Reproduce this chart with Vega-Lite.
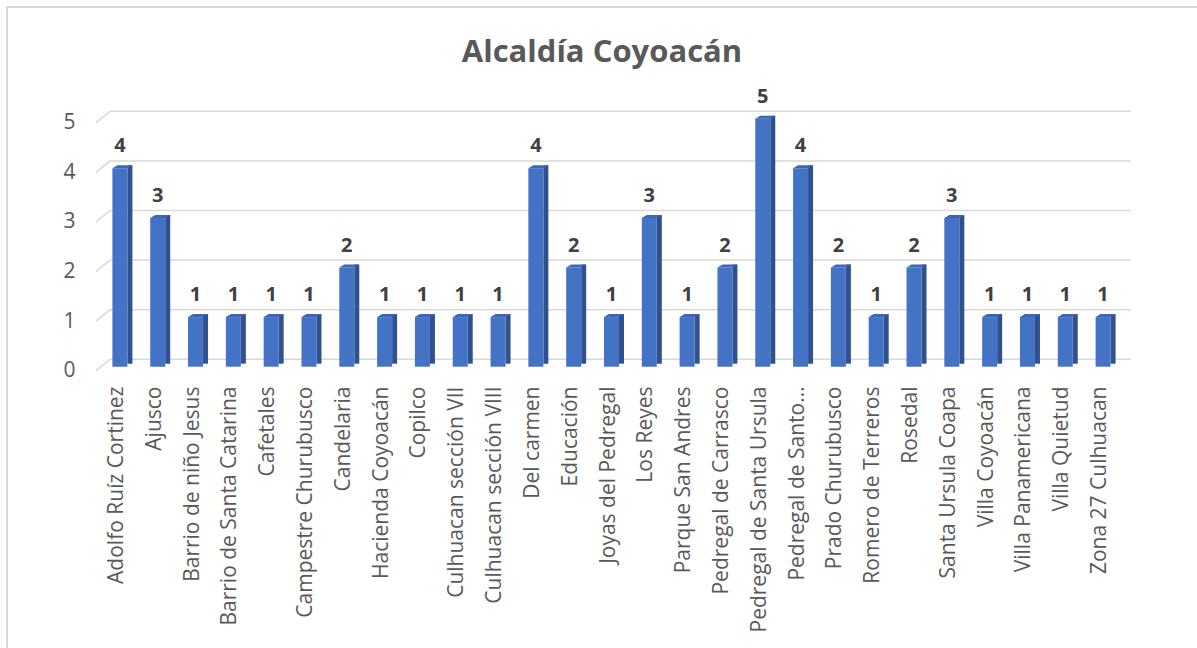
{
  "$schema": "https://vega.github.io/schema/vega-lite/v6.json",
  "width": 1190,
  "height": 641,
  "autosize": {"type": "none"},
  "padding": {"left": 7, "top": 7, "right": 0, "bottom": 0},
  "background": "#ffffff",
  "config": {
    "font": "Open Sans",
    "view": {"stroke": "#d9d9d9", "strokeWidth": 2, "strokeDash": [1190, 1831, 641], "fill": null}
  },
  "title": {
    "text": "Alcaldía Coyoacán",
    "font": "Open Sans",
    "fontSize": 31,
    "fontWeight": "bold",
    "color": "#595959",
    "anchor": "middle",
    "frame": "group",
    "offset": -86,
    "baseline": "alphabetic"
  },
  "datasets": {
    "barrios": [
      {"barrio": "Adolfo Ruíz Cortinez", "n": 4},
      {"barrio": "Ajusco", "n": 3},
      {"barrio": "Barrio de niño Jesus", "n": 1},
      {"barrio": "Barrio de Santa Catarina", "n": 1},
      {"barrio": "Cafetales", "n": 1},
      {"barrio": "Campestre Churubusco", "n": 1},
      {"barrio": "Candelaria", "n": 2},
      {"barrio": "Hacienda Coyoacán", "n": 1},
      {"barrio": "Copilco", "n": 1},
      {"barrio": "Culhuacan sección VII", "n": 1},
      {"barrio": "Culhuacan sección VIII", "n": 1},
      {"barrio": "Del carmen", "n": 4},
      {"barrio": "Educación", "n": 2},
      {"barrio": "Joyas del Pedregal", "n": 1},
      {"barrio": "Los Reyes", "n": 3},
      {"barrio": "Parque San Andres", "n": 1},
      {"barrio": "Pedregal de Carrasco", "n": 2},
      {"barrio": "Pedregal de Santa Ursula", "n": 5},
      {"barrio": "Pedregal de Santo…", "n": 4},
      {"barrio": "Prado Churubusco", "n": 2},
      {"barrio": "Romero de Terreros", "n": 1},
      {"barrio": "Rosedal", "n": 2},
      {"barrio": "Santa Ursula Coapa", "n": 3},
      {"barrio": "Villa Coyoacán", "n": 1},
      {"barrio": "Villa Panamericana", "n": 1},
      {"barrio": "Villa Quietud", "n": 1},
      {"barrio": "Zona 27 Culhuacan", "n": 1}
    ],
    "ticks": [
      {"tick": 0}, {"tick": 1}, {"tick": 2}, {"tick": 3}, {"tick": 4}, {"tick": 5}
    ]
  },
  "layer": [
    {
      "data": {"name": "ticks"},
      "mark": {"type": "rule", "color": "#d9d9d9", "strokeWidth": 1.5, "xOffset": 14, "x2Offset": 14, "yOffset": -11.4, "y2Offset": -11.4},
      "encoding": {
        "x": {"datum": "Adolfo Ruíz Cortinez", "type": "nominal", "bandPosition": 0},
        "x2": {"datum": "Zona 27 Culhuacan", "bandPosition": 1},
        "y": {"field": "tick", "type": "quantitative"}
      }
    },
    {
      "data": {"name": "ticks"},
      "mark": {
        "type": "point",
        "shape": "M-0.7,0.57 L0.7,-0.57",
        "size": 400,
        "filled": false,
        "opacity": 1,
        "color": "#d9d9d9",
        "strokeWidth": 1.5,
        "xOffset": 7,
        "yOffset": -5.7
      },
      "encoding": {
        "x": {"datum": "Adolfo Ruíz Cortinez", "type": "nominal", "bandPosition": 0},
        "y": {"field": "tick", "type": "quantitative"}
      }
    },
    {
      "data": {"name": "barrios"},
      "encoding": {
        "x": {
          "field": "barrio",
          "type": "nominal",
          "sort": null,
          "scale": {
            "type": "band",
            "domain": [
              "Adolfo Ruíz Cortinez", "Ajusco", "Barrio de niño Jesus", "Barrio de Santa Catarina",
              "Cafetales", "Campestre Churubusco", "Candelaria", "Hacienda Coyoacán", "Copilco",
              "Culhuacan sección VII", "Culhuacan sección VIII", "Del carmen", "Educación",
              "Joyas del Pedregal", "Los Reyes", "Parque San Andres", "Pedregal de Carrasco",
              "Pedregal de Santa Ursula", "Pedregal de Santo…", "Prado Churubusco",
              "Romero de Terreros", "Rosedal", "Santa Ursula Coapa", "Villa Coyoacán",
              "Villa Panamericana", "Villa Quietud", "Zona 27 Culhuacan"
            ],
            "range": [89, 1110],
            "paddingInner": 0,
            "paddingOuter": 0
          },
          "axis": {
            "title": null,
            "orient": "bottom",
            "offset": -265,
            "labelAngle": -90,
            "labelPadding": 3,
            "labelOffset": 2,
            "labelFontSize": 21,
            "labelFont": "Open Sans",
            "labelColor": "#595959",
            "labelLimit": 400,
            "domain": false,
            "ticks": false,
            "grid": false
          }
        },
        "y": {
          "field": "n",
          "type": "quantitative",
          "scale": {"domain": [0, 5], "range": [363.7, 115.7], "nice": false, "zero": true},
          "axis": {
            "title": null,
            "values": [0, 1, 2, 3, 4, 5],
            "format": "d",
            "offset": -72,
            "labelPadding": 4,
            "labelFontSize": 21,
            "labelFont": "Open Sans",
            "labelColor": "#595959",
            "domain": false,
            "ticks": false,
            "grid": false
          }
        }
      },
      "layer": [
        {
          "mark": {"type": "bar", "width": 5, "xOffset": 15, "yOffset": -7, "y2Offset": -7, "color": "#2f528f"}
        },
        {
          "mark": {"type": "bar", "width": 15, "xOffset": 5, "yOffset": -4, "y2Offset": -4, "color": "#4472c4"}
        },
        {
          "mark": {
            "type": "point",
            "shape": "M-0.75,0 L0.75,0 L1.25,-0.3 L-0.25,-0.3 Z",
            "size": 400,
            "filled": true,
            "opacity": 1,
            "strokeWidth": 0,
            "xOffset": 5,
            "yOffset": -4,
            "color": "#3a67b8"
          }
        },
        {
          "mark": {
            "type": "text",
            "font": "Open Sans",
            "fontSize": 20,
            "fontWeight": "bold",
            "color": "#404040",
            "baseline": "alphabetic",
            "xOffset": 5,
            "yOffset": -20
          },
          "encoding": {"text": {"field": "n", "type": "quantitative"}}
        }
      ]
    }
  ]
}
